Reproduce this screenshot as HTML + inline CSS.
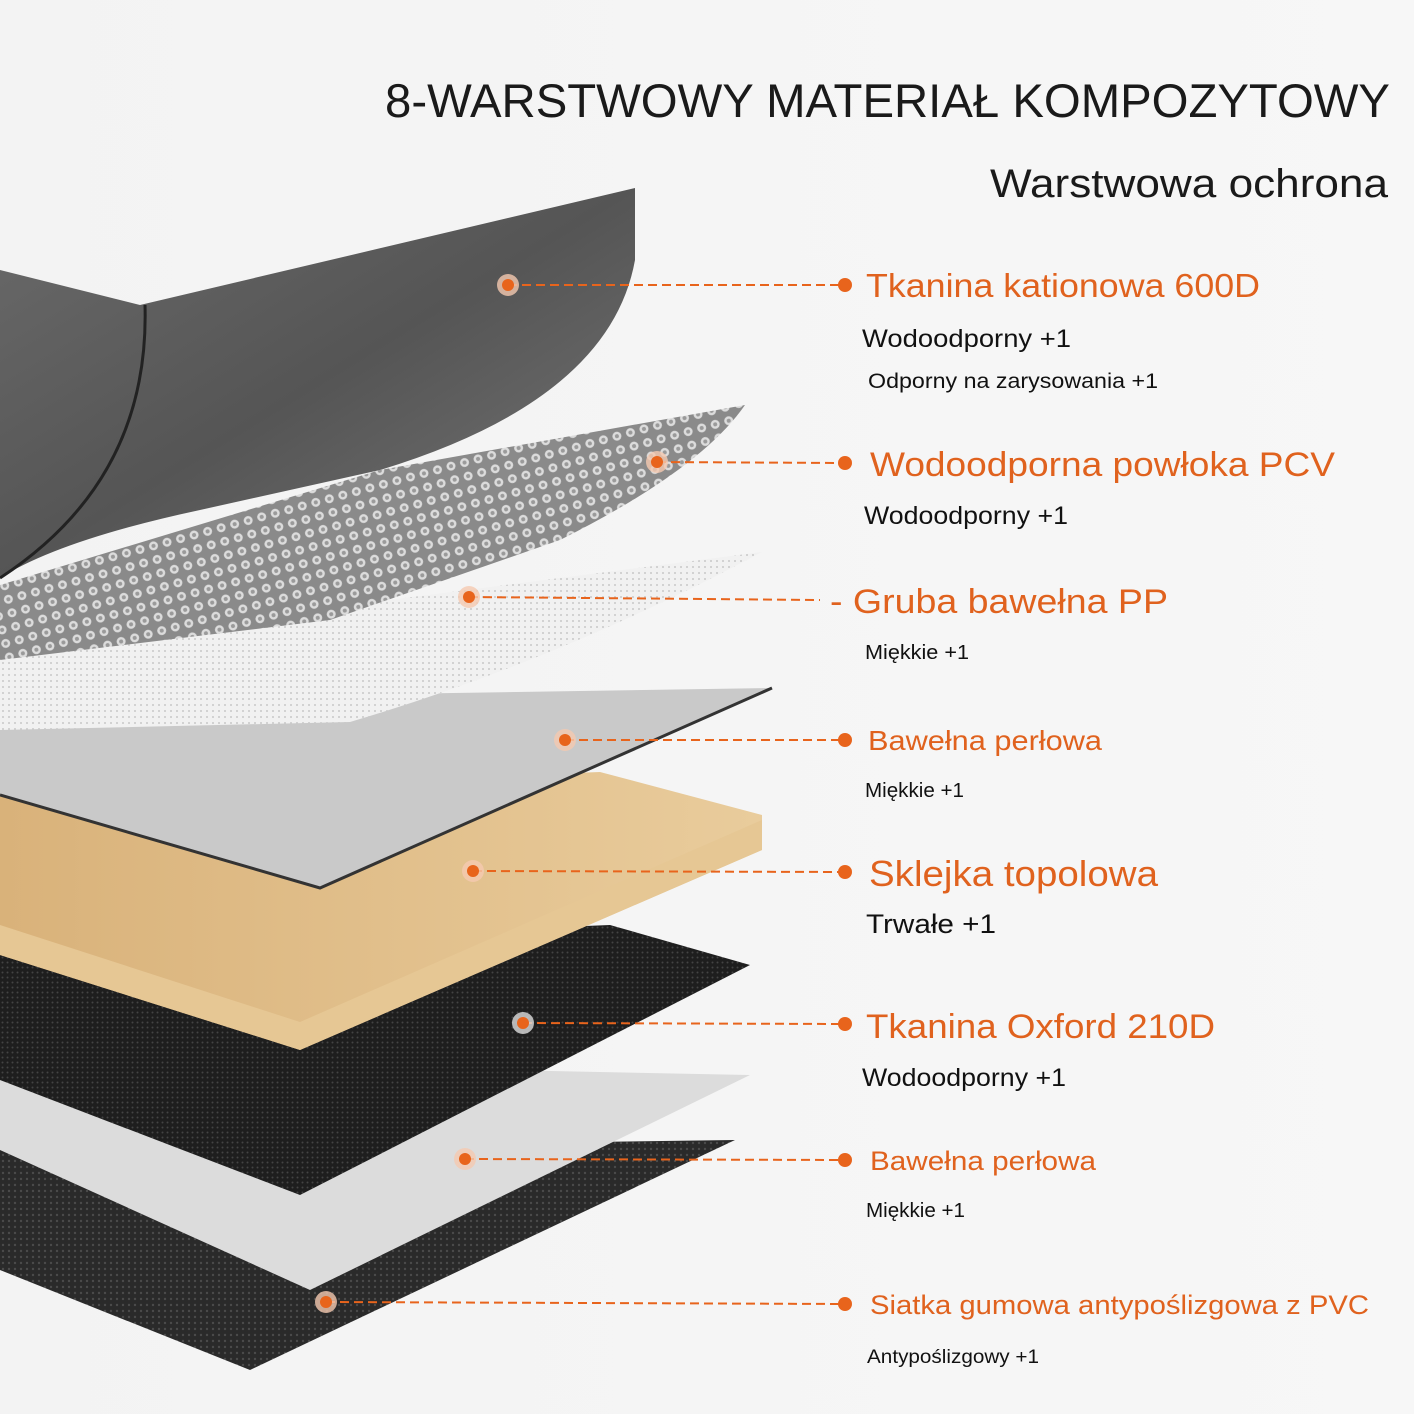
<!DOCTYPE html>
<html><head><meta charset="utf-8"><style>
html,body{margin:0;padding:0;}
body{width:1414px;height:1414px;background:linear-gradient(90deg,#f3f3f3,#f7f7f7);overflow:hidden;font-family:"Liberation Sans",sans-serif;}
svg{display:block}
</style></head><body>
<svg width="1414" height="1414" viewBox="0 0 1414 1414" xmlns="http://www.w3.org/2000/svg">
<defs>
<pattern id="dots" width="14" height="14" patternUnits="userSpaceOnUse" patternTransform="rotate(-15)">
<rect width="14" height="14" fill="#8a8a8a"/><circle cx="7" cy="7" r="4.5" fill="#dcdcdc"/><circle cx="7" cy="7" r="2" fill="#9a9a9a"/></pattern>
<pattern id="fine" width="6" height="6" patternUnits="userSpaceOnUse"><rect width="6" height="6" fill="#f1f1f1"/><circle cx="3" cy="3" r="1" fill="#c9c9c9"/></pattern>
<pattern id="mesh" width="5" height="5" patternUnits="userSpaceOnUse"><rect width="5" height="5" fill="#1e1e1e"/><circle cx="2.5" cy="2.5" r="1" fill="#444"/></pattern>
<pattern id="mesh2" width="6" height="6" patternUnits="userSpaceOnUse"><rect width="6" height="6" fill="#2a2a2a"/><circle cx="3" cy="3" r="1.2" fill="#4a4a4a"/></pattern>
<linearGradient id="grey" x1="0" y1="0" x2="1" y2="1"><stop offset="0" stop-color="#6a6a6a"/><stop offset="0.5" stop-color="#555"/><stop offset="1" stop-color="#777"/></linearGradient>
<linearGradient id="wood" x1="0" y1="0" x2="1" y2="0"><stop offset="0" stop-color="#d9b27a"/><stop offset="1" stop-color="#e9cc9c"/></linearGradient>
</defs>
<polygon points="0,1150 735,1140 250,1370 0,1270" fill="url(#mesh2)"/>
<polygon points="0,1060 750,1075 310,1290 0,1150" fill="#dcdcdc"/>
<polygon points="0,950 610,925 750,965 300,1195 0,1080" fill="url(#mesh)"/>
<polygon points="0,795 600,772 762,815 762,850 300,1050 0,955" fill="url(#wood)"/>
<polygon points="0,925 300,1022 762,820 762,850 300,1050 0,955" fill="#e6c794"/>
<polygon points="0,700 772,688 320,888 0,795" fill="#c9c9c9"/>
<polyline points="772,688 320,888 0,795" fill="none" stroke="#333" stroke-width="3"/>
<path d="M0,650 L762,552 Q560,660 350,722 L0,730 Z" fill="url(#fine)"/>
<path d="M0,585 L380,470 L745,405 Q700,470 560,540 L330,620 L0,660 Z" fill="url(#dots)"/>
<path d="M0,270 L140,305 L635,188 L635,260 Q610,400 380,470 L200,510 Q60,540 0,578 Z" fill="url(#grey)"/>
<path d="M145,305 Q150,480 0,578" fill="none" stroke="#222" stroke-width="3"/>
<g stroke="#e8641c" stroke-width="2" stroke-dasharray="9,5" fill="none">
<line x1="508" y1="285" x2="845" y2="285"/>
<line x1="657" y1="462" x2="845" y2="463"/>
<line x1="469" y1="597" x2="820" y2="600"/>
<line x1="565" y1="740" x2="845" y2="740"/>
<line x1="473" y1="871" x2="845" y2="872"/>
<line x1="523" y1="1023" x2="845" y2="1024"/>
<line x1="465" y1="1159" x2="845" y2="1160"/>
<line x1="326" y1="1302" x2="845" y2="1304"/>
</g>
<g fill="#e8641c">
<circle cx="508" cy="285" r="11" fill="#f5c9b0" opacity="0.8"/><circle cx="508" cy="285" r="6"/>
<circle cx="657" cy="462" r="11" fill="#f5c9b0" opacity="0.8"/><circle cx="657" cy="462" r="6"/>
<circle cx="469" cy="597" r="11" fill="#f5c9b0" opacity="0.8"/><circle cx="469" cy="597" r="6"/>
<circle cx="565" cy="740" r="11" fill="#f5c9b0" opacity="0.8"/><circle cx="565" cy="740" r="6"/>
<circle cx="473" cy="871" r="11" fill="#f5c9b0" opacity="0.8"/><circle cx="473" cy="871" r="6"/>
<circle cx="523" cy="1023" r="11" fill="#ddd" opacity="0.8"/><circle cx="523" cy="1023" r="6"/>
<circle cx="465" cy="1159" r="11" fill="#f5c9b0" opacity="0.8"/><circle cx="465" cy="1159" r="6"/>
<circle cx="326" cy="1302" r="11" fill="#f5c9b0" opacity="0.8"/><circle cx="326" cy="1302" r="6"/>
<circle cx="845" cy="285" r="7"/><circle cx="845" cy="463" r="7"/><circle cx="845" cy="740" r="7"/><circle cx="845" cy="872" r="7"/><circle cx="845" cy="1024" r="7"/><circle cx="845" cy="1160" r="7"/><circle cx="845" cy="1304" r="7"/>
</g>
<g font-family="Liberation Sans, sans-serif">
<text x="385" y="117" font-size="47" fill="#1a1a1a" textLength="1005" lengthAdjust="spacingAndGlyphs">8-WARSTWOWY MATERIAŁ KOMPOZYTOWY</text>
<text x="990" y="197" font-size="40" fill="#1a1a1a" textLength="398" lengthAdjust="spacingAndGlyphs">Warstwowa ochrona</text>
<g fill="#e0621e">
<text x="866" y="297" font-size="33" textLength="394" lengthAdjust="spacingAndGlyphs">Tkanina kationowa 600D</text>
<text x="870" y="476" font-size="34" textLength="465" lengthAdjust="spacingAndGlyphs">Wodoodporna powłoka PCV</text>
<text x="830" y="613" font-size="34" textLength="338" lengthAdjust="spacingAndGlyphs">- Gruba bawełna PP</text>
<text x="868" y="750" font-size="28" textLength="234" lengthAdjust="spacingAndGlyphs">Bawełna perłowa</text>
<text x="869" y="886" font-size="36" textLength="289" lengthAdjust="spacingAndGlyphs">Sklejka topolowa</text>
<text x="866" y="1038" font-size="34" textLength="349" lengthAdjust="spacingAndGlyphs">Tkanina Oxford 210D</text>
<text x="870" y="1170" font-size="27" textLength="226" lengthAdjust="spacingAndGlyphs">Bawełna perłowa</text>
<text x="870" y="1314" font-size="27" textLength="499" lengthAdjust="spacingAndGlyphs">Siatka gumowa antypoślizgowa z PVC</text>
</g>
<g fill="#111">
<text x="862" y="347" font-size="25" textLength="209" lengthAdjust="spacingAndGlyphs">Wodoodporny +1</text>
<text x="868" y="388" font-size="21" textLength="290" lengthAdjust="spacingAndGlyphs">Odporny na zarysowania +1</text>
<text x="864" y="524" font-size="25" textLength="204" lengthAdjust="spacingAndGlyphs">Wodoodporny +1</text>
<text x="865" y="659" font-size="20" textLength="104" lengthAdjust="spacingAndGlyphs">Miękkie +1</text>
<text x="865" y="797" font-size="20" textLength="99" lengthAdjust="spacingAndGlyphs">Miękkie +1</text>
<text x="866" y="933" font-size="27" textLength="130" lengthAdjust="spacingAndGlyphs">Trwałe +1</text>
<text x="862" y="1086" font-size="25" textLength="204" lengthAdjust="spacingAndGlyphs">Wodoodporny +1</text>
<text x="866" y="1217" font-size="20" textLength="99" lengthAdjust="spacingAndGlyphs">Miękkie +1</text>
<text x="867" y="1363" font-size="19" textLength="172" lengthAdjust="spacingAndGlyphs">Antypoślizgowy +1</text>
</g>
</g>
</svg>
</body></html>
